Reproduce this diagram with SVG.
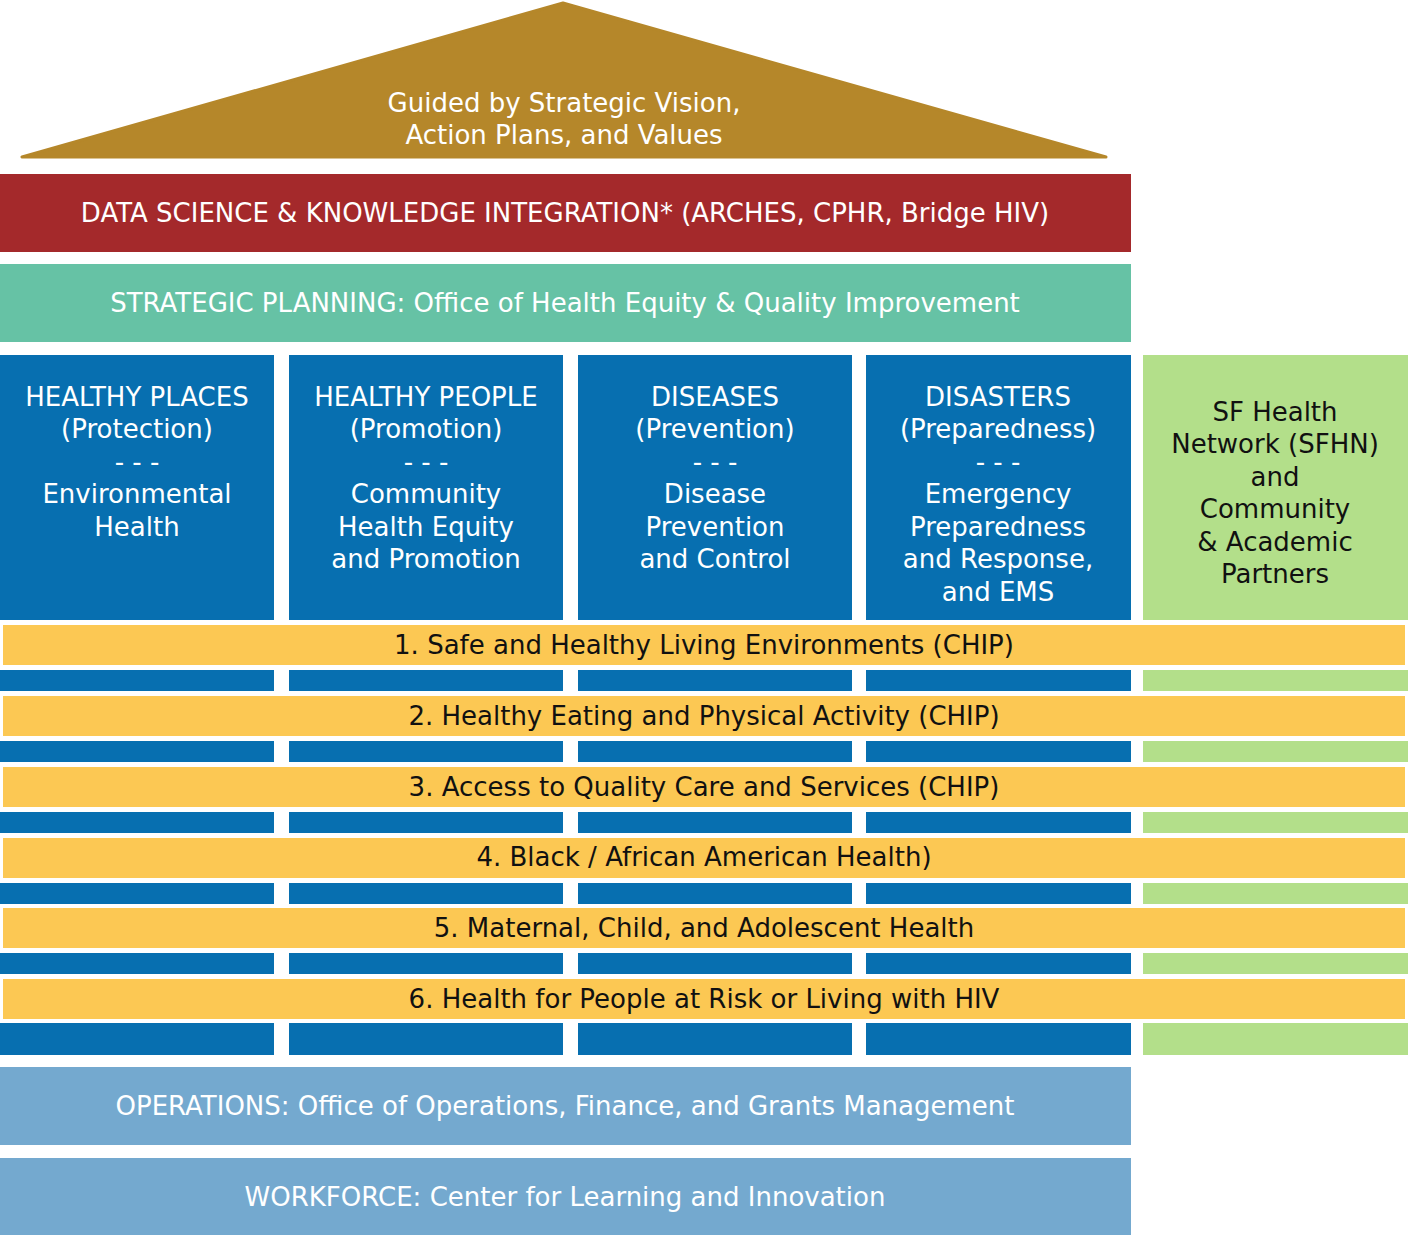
<svg xmlns="http://www.w3.org/2000/svg" width="1408" height="1235" viewBox="0 0 1408 1235">
<style>
text{font-family:"DejaVu Sans",Verdana,sans-serif;font-size:26px;text-anchor:middle}
.w{fill:#ffffff}
.k{fill:#111111}
.blue{fill:#076FB0}
.green{fill:#B3DF8A}
.yel{fill:#FCC853}
.lb{fill:#74A9CF}
</style>
<g id="roof">
<polygon points="563,3 22,157 1106,157" fill="#B5872A" stroke="#B5872A" stroke-width="3" stroke-linejoin="round"/>
<text class="w" x="564" y="112">Guided by Strategic Vision,</text>
<text class="w" x="564" y="144">Action Plans, and Values</text>
</g>
<g id="data-science">
<rect x="0" y="174" width="1131" height="78" fill="#A4292B"/>
<text class="w" x="565" y="222">DATA SCIENCE &amp; KNOWLEDGE INTEGRATION* (ARCHES, CPHR, Bridge HIV)</text>
</g>
<g id="strategic-planning">
<rect x="0" y="264" width="1131" height="78" fill="#66C2A5"/>
<text class="w" x="565" y="312">STRATEGIC PLANNING: Office of Health Equity &amp; Quality Improvement</text>
</g>
<g id="healthy-places">
<rect class="blue" x="0" y="355" width="274" height="265"/>
<text class="w" x="137" y="406">HEALTHY PLACES</text>
<text class="w" x="137" y="438">(Protection)</text>
<text class="w" x="137" y="471">- - -</text>
<text class="w" x="137" y="503">Environmental</text>
<text class="w" x="137" y="536">Health</text>
</g>
<g id="healthy-people">
<rect class="blue" x="289" y="355" width="274" height="265"/>
<text class="w" x="426" y="406">HEALTHY PEOPLE</text>
<text class="w" x="426" y="438">(Promotion)</text>
<text class="w" x="426" y="471">- - -</text>
<text class="w" x="426" y="503">Community</text>
<text class="w" x="426" y="536">Health Equity</text>
<text class="w" x="426" y="568">and Promotion</text>
</g>
<g id="diseases">
<rect class="blue" x="578" y="355" width="274" height="265"/>
<text class="w" x="715" y="406">DISEASES</text>
<text class="w" x="715" y="438">(Prevention)</text>
<text class="w" x="715" y="471">- - -</text>
<text class="w" x="715" y="503">Disease</text>
<text class="w" x="715" y="536">Prevention</text>
<text class="w" x="715" y="568">and Control</text>
</g>
<g id="disasters">
<rect class="blue" x="866" y="355" width="265" height="265"/>
<text class="w" x="998" y="406">DISASTERS</text>
<text class="w" x="998" y="438">(Preparedness)</text>
<text class="w" x="998" y="471">- - -</text>
<text class="w" x="998" y="503">Emergency</text>
<text class="w" x="998" y="536">Preparedness</text>
<text class="w" x="998" y="568">and Response,</text>
<text class="w" x="998" y="601">and EMS</text>
</g>
<g id="sfhn">
<rect class="green" x="1143" y="355" width="265" height="265"/>
<text class="k" x="1275" y="421">SF Health</text>
<text class="k" x="1275" y="453">Network (SFHN)</text>
<text class="k" x="1275" y="486">and</text>
<text class="k" x="1275" y="518">Community</text>
<text class="k" x="1275" y="551">&amp; Academic</text>
<text class="k" x="1275" y="583">Partners</text>
</g>
<g id="strips">
<rect class="blue" x="0" y="670" width="274" height="21"/><rect class="blue" x="289" y="670" width="274" height="21"/><rect class="blue" x="578" y="670" width="274" height="21"/><rect class="blue" x="866" y="670" width="265" height="21"/><rect class="green" x="1143" y="670" width="265" height="21"/>
<rect class="blue" x="0" y="741" width="274" height="21"/><rect class="blue" x="289" y="741" width="274" height="21"/><rect class="blue" x="578" y="741" width="274" height="21"/><rect class="blue" x="866" y="741" width="265" height="21"/><rect class="green" x="1143" y="741" width="265" height="21"/>
<rect class="blue" x="0" y="812" width="274" height="21"/><rect class="blue" x="289" y="812" width="274" height="21"/><rect class="blue" x="578" y="812" width="274" height="21"/><rect class="blue" x="866" y="812" width="265" height="21"/><rect class="green" x="1143" y="812" width="265" height="21"/>
<rect class="blue" x="0" y="883" width="274" height="21"/><rect class="blue" x="289" y="883" width="274" height="21"/><rect class="blue" x="578" y="883" width="274" height="21"/><rect class="blue" x="866" y="883" width="265" height="21"/><rect class="green" x="1143" y="883" width="265" height="21"/>
<rect class="blue" x="0" y="953" width="274" height="21"/><rect class="blue" x="289" y="953" width="274" height="21"/><rect class="blue" x="578" y="953" width="274" height="21"/><rect class="blue" x="866" y="953" width="265" height="21"/><rect class="green" x="1143" y="953" width="265" height="21"/>
<rect class="blue" x="0" y="1023" width="274" height="32"/><rect class="blue" x="289" y="1023" width="274" height="32"/><rect class="blue" x="578" y="1023" width="274" height="32"/><rect class="blue" x="866" y="1023" width="265" height="32"/><rect class="green" x="1143" y="1023" width="265" height="32"/>
</g>
<g id="priority-1">
<rect class="yel" x="3" y="625" width="1402" height="40"/>
<text class="k" x="704" y="654">1. Safe and Healthy Living Environments (CHIP)</text>
</g>
<g id="priority-2">
<rect class="yel" x="3" y="696" width="1402" height="40"/>
<text class="k" x="704" y="725">2. Healthy Eating and Physical Activity (CHIP)</text>
</g>
<g id="priority-3">
<rect class="yel" x="3" y="767" width="1402" height="40"/>
<text class="k" x="704" y="796">3. Access to Quality Care and Services (CHIP)</text>
</g>
<g id="priority-4">
<rect class="yel" x="3" y="838" width="1402" height="40"/>
<text class="k" x="704" y="866">4. Black / African American Health)</text>
</g>
<g id="priority-5">
<rect class="yel" x="3" y="908" width="1402" height="40"/>
<text class="k" x="704" y="937">5. Maternal, Child, and Adolescent Health</text>
</g>
<g id="priority-6">
<rect class="yel" x="3" y="979" width="1402" height="40"/>
<text class="k" x="704" y="1008">6. Health for People at Risk or Living with HIV</text>
</g>
<g id="operations">
<rect class="lb" x="0" y="1067" width="1131" height="78"/>
<text class="w" x="565" y="1115">OPERATIONS: Office of Operations, Finance, and Grants Management</text>
</g>
<g id="workforce">
<rect class="lb" x="0" y="1158" width="1131" height="77"/>
<text class="w" x="565" y="1206">WORKFORCE: Center for Learning and Innovation</text>
</g>
<g id="connectors"></g>
</svg>
